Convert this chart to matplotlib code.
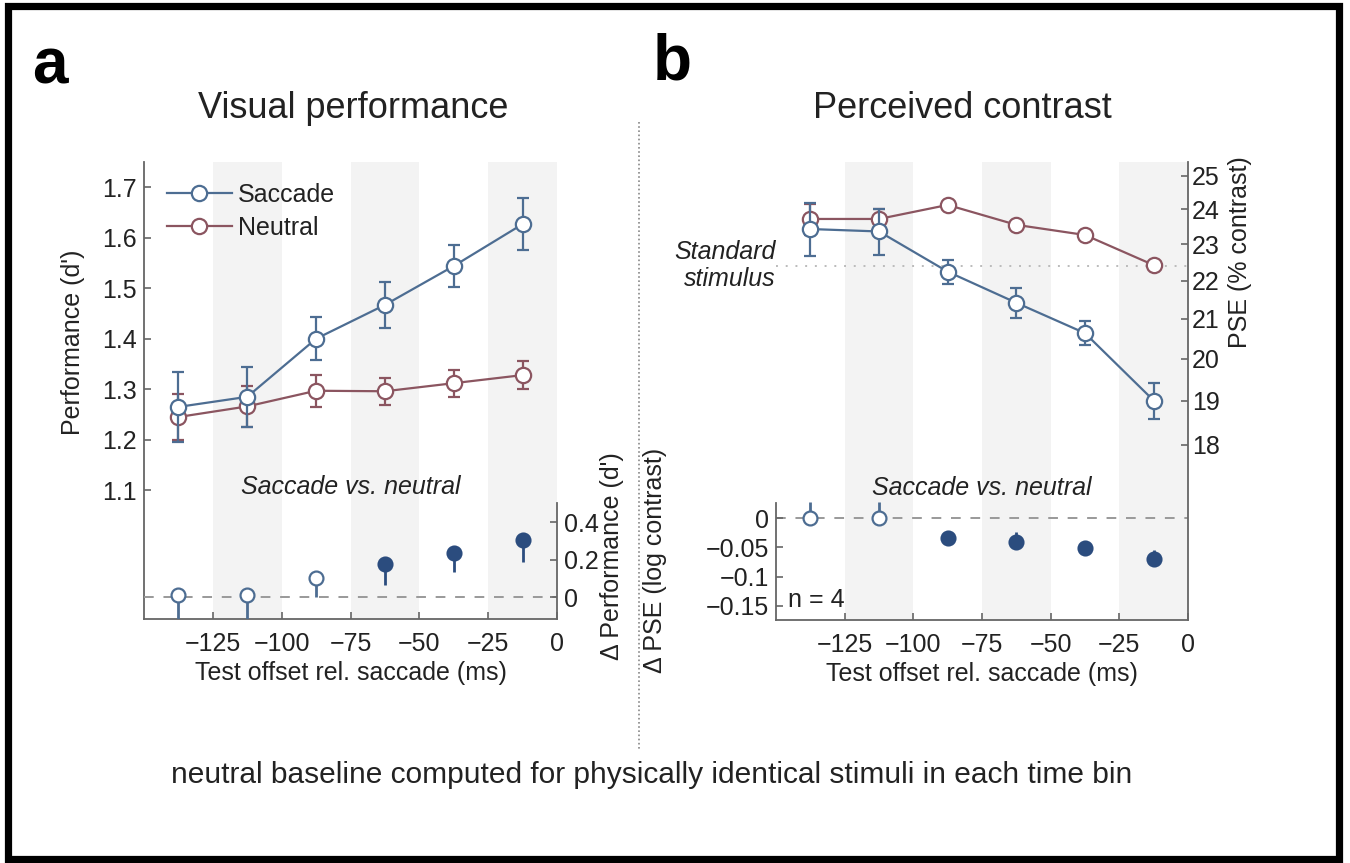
import matplotlib
matplotlib.use("Agg")
import matplotlib.pyplot as plt
from matplotlib.lines import Line2D
from matplotlib.patches import Rectangle
from matplotlib.ticker import FixedLocator, FixedFormatter, NullLocator
import numpy as np

plt.rcParams['font.family'] = ['Liberation Sans', 'DejaVu Sans']

# ---- data ----
time_bins = [-137.5, -112.5, -87.5, -62.5, -37.5, -12.5]
shade_bins = [(-125, -100), (-75, -50), (-25, 0)]
x_ticks = [-125, -100, -75, -50, -25, 0]

# a: visual performance (d')
perf_saccade = [1.265, 1.285, 1.400, 1.467, 1.544, 1.627]
perf_saccade_err = [0.070, 0.060, 0.043, 0.045, 0.042, 0.052]
perf_neutral = [1.245, 1.266, 1.297, 1.296, 1.312, 1.328]
perf_neutral_err = [0.045, 0.040, 0.032, 0.027, 0.027, 0.028]
dperf = [0.010, 0.010, 0.100, 0.176, 0.235, 0.304]
dperf_err_low = [0.130, 0.130, 0.100, 0.112, 0.102, 0.117]
dperf_sig = [False, False, False, True, True, True]

# b: perceived contrast (PSE, % contrast)
pse_saccade = [23.43, 23.36, 22.24, 21.41, 20.63, 19.00]
pse_saccade_err = [0.75, 0.65, 0.32, 0.40, 0.30, 0.42]
pse_neutral = [23.72, 23.72, 24.13, 23.55, 23.26, 22.42]
pse_neutral_err = [0.45, 0.30, 0.12, 0.12, 0.10, 0.12]
standard_pse = 22.4
dpse = [0.000, 0.000, -0.034, -0.041, -0.051, -0.070]
dpse_err_high = [0.027, 0.027, 0.010, 0.017, 0.012, 0.015]
dpse_sig = [False, False, True, True, True, True]
pse_ticks = [18, 19, 20, 21, 22, 23, 24, 25]

# ---- style ----
C_SAC = '#4d6d92'
C_NEU = '#8b5560'
C_FILL = '#2b4c7e'
C_SHADE = '#f3f3f3'
C_AX = '#666666'
C_TXT = '#222222'
FS = 18

W, H = 1350, 863
fig = plt.figure(figsize=(W / 100, H / 100), dpi=100)
fig.patch.set_facecolor('white')


def fbox(l, t, r, b):
    return [l / W, 1 - b / H, (r - l) / W, (b - t) / H]


def style_ticks(ax):
    ax.tick_params(direction='in', length=5, width=1.2, colors=C_AX,
                   labelcolor=C_TXT, labelsize=FS, pad=5)


def shade(ax):
    for lo, hi in shade_bins:
        ax.axvspan(lo, hi, color=C_SHADE, lw=0, zorder=0)


line_kw = dict(lw=1.6, elinewidth=1.6, capsize=4, capthick=1.6, marker='o',
               ms=11, mfc='white', mew=1.6)

# ================= panel a =================
axa = fig.add_axes(fbox(144, 162, 557, 619))
axa2 = axa.twinx()
shade(axa)
axa.set_xlim(-150, 0)
axa.set_ylim(0.845, 1.75)
axa2.set_ylim(-0.1173, 2.32)

axa.errorbar(time_bins, perf_neutral, yerr=perf_neutral_err, color=C_NEU,
             mec=C_NEU, zorder=3, **line_kw)
axa.errorbar(time_bins, perf_saccade, yerr=perf_saccade_err, color=C_SAC,
             mec=C_SAC, zorder=4, **line_kw)

axa2.axhline(0, color='#999999', lw=1.4, ls=(0, (5, 5)), zorder=1)
for x, y, e, s in zip(time_bins, dperf, dperf_err_low, dperf_sig):
    axa2.errorbar([x], [y], yerr=[[e], [0]], color=C_FILL if s else C_SAC,
                  elinewidth=2, capsize=0, marker='o', ms=10,
                  mfc=C_FILL if s else 'white', mec=C_FILL if s else C_SAC,
                  mew=1.6, zorder=3)

axa.set_xticks(x_ticks)
axa.set_yticks([1.1, 1.2, 1.3, 1.4, 1.5, 1.6, 1.7])
axa.yaxis.set_major_formatter(FixedFormatter(['1.1', '1.2', '1.3', '1.4', '1.5', '1.6', '1.7']))
axa2.set_yticks([0, 0.2, 0.4])
axa2.yaxis.set_major_formatter(FixedFormatter(['0', '0.2', '0.4']))
for ax in (axa, axa2):
    style_ticks(ax)
    for sp in ax.spines.values():
        sp.set_color(C_AX)
        sp.set_linewidth(1.3)
axa.spines['top'].set_visible(False)
axa.spines['right'].set_visible(False)
axa2.spines['top'].set_visible(False)
axa2.spines['left'].set_visible(False)
axa2.spines['bottom'].set_visible(False)
axa2.spines['right'].set_bounds(-0.1173, 0.5)
axa.set_xlabel('Test offset rel. saccade (ms)', fontsize=FS, color=C_TXT, labelpad=4)
axa.tick_params(axis='x', pad=9)

handles = [Line2D([], [], color=C_SAC, lw=1.6, marker='o', ms=11, mfc='white',
                  mec=C_SAC, mew=1.6),
           Line2D([], [], color=C_NEU, lw=1.6, marker='o', ms=11, mfc='white',
                  mec=C_NEU, mew=1.6)]
leg = axa.legend(handles, ['Saccade', 'Neutral'], loc='upper left',
                 bbox_to_anchor=(0.055, 0.955), frameon=False, fontsize=FS,
                 handlelength=2.6, handletextpad=0.25, labelspacing=0.38,
                 borderaxespad=0, borderpad=0)
for t in leg.get_texts():
    t.set_color(C_TXT)

axa.text(0.5, 0.288, 'Saccade vs. neutral', transform=axa.transAxes,
         ha='center', va='center', fontsize=FS, style='italic', color=C_TXT)

# ================= panel b =================
axb = fig.add_axes(fbox(776, 162, 1188, 620))
axb2 = axb.twinx()
shade(axb)
axb.set_xlim(-150, 0)
axb.set_ylim(-0.174, 0.6075)
axb2.set_yscale('log')
axb2.set_ylim(14.53, 25.43)

axb2.axhline(standard_pse, color='#bbbbbb', lw=1.4, ls=(0, (1, 4)), zorder=1)
axb2.errorbar(time_bins, pse_neutral, yerr=pse_neutral_err, color=C_NEU,
              mec=C_NEU, zorder=3, **line_kw)
axb2.errorbar(time_bins, pse_saccade, yerr=pse_saccade_err, color=C_SAC,
              mec=C_SAC, zorder=4, **line_kw)

axb.axhline(0, color='#999999', lw=1.4, ls=(0, (5, 5)), zorder=1)
for x, y, e, s in zip(time_bins, dpse, dpse_err_high, dpse_sig):
    axb.errorbar([x], [y], yerr=[[0], [e]], color=C_FILL if s else C_SAC,
                 elinewidth=2, capsize=0, marker='o', ms=10,
                 mfc=C_FILL if s else 'white', mec=C_FILL if s else C_SAC,
                 mew=1.6, zorder=3)

axb.set_xticks(x_ticks)
axb.set_yticks([-0.15, -0.1, -0.05, 0])
axb.yaxis.set_major_formatter(FixedFormatter(['\u22120.15', '\u22120.1', '\u22120.05', '0']))
axb2.yaxis.set_major_locator(FixedLocator(pse_ticks))
axb2.yaxis.set_major_formatter(FixedFormatter([str(v) for v in pse_ticks]))
axb2.yaxis.set_minor_locator(NullLocator())
for ax in (axb, axb2):
    style_ticks(ax)
    for sp in ax.spines.values():
        sp.set_color(C_AX)
        sp.set_linewidth(1.3)
axb2.tick_params(axis='y', pad=3)
axb.spines['top'].set_visible(False)
axb.spines['right'].set_visible(False)
axb.spines['left'].set_bounds(-0.174, 0.026)
axb2.spines['top'].set_visible(False)
axb2.spines['left'].set_visible(False)
axb2.spines['bottom'].set_visible(False)
axb.set_xlabel('Test offset rel. saccade (ms)', fontsize=FS, color=C_TXT, labelpad=4)
axb.tick_params(axis='x', pad=9)

axb.text(0.5, 0.288, 'Saccade vs. neutral', transform=axb.transAxes,
         ha='center', va='center', fontsize=FS, style='italic', color=C_TXT)
axb.text(0.03, 0.018, 'n = 4', transform=axb.transAxes, ha='left', va='bottom',
         fontsize=FS, color=C_TXT)
axb2.text(-150, standard_pse, 'Standard\nstimulus', ha='right', va='center',
          fontsize=FS, style='italic', color=C_TXT, linespacing=1.15)

# ---- figure-level text ----
def ftext(x, y, s, **kw):
    fig.text(x / W, 1 - y / H, s, **kw)

ftext(50, 66, 'a', fontsize=46, fontweight='bold', ha='center', va='center', color='black')
ftext(672, 62, 'b', fontsize=46, fontweight='bold', ha='center', va='center', color='black')
ftext(353, 108, 'Visual performance', fontsize=26, ha='center', va='center', color=C_TXT)
ftext(962, 108, 'Perceived contrast', fontsize=26, ha='center', va='center', color=C_TXT)
ftext(73, 342, "Performance (d')", fontsize=FS, rotation=90, ha='center', va='center', color=C_TXT)
ftext(612, 556, "\u0394 Performance (d')", fontsize=FS, rotation=90, ha='center', va='center', color=C_TXT)
ftext(1240, 252, 'PSE (% contrast)', fontsize=FS, rotation=90, ha='center', va='center', color=C_TXT)
ftext(655, 560, '\u0394 PSE (log contrast)', fontsize=FS, rotation=90, ha='center', va='center', color=C_TXT)
ftext(652, 775, 'neutral baseline computed for physically identical stimuli in each time bin',
      fontsize=21.5, ha='center', va='center', color=C_TXT)

# dotted divider between panels
fig.add_artist(Line2D([639 / W, 639 / W], [1 - 122 / H, 1 - 750 / H],
                      color='#888888', lw=1.2, ls=(0, (1, 1.5))))
# outer frame
fig.add_artist(Rectangle((7.5 / W, 1 - 859 / H), (1339 - 7.5) / W, (859 - 6.5) / H,
                         fill=False, ec='black', lw=5.2, transform=fig.transFigure))

fig.savefig('out.png', dpi=100, facecolor='white')
